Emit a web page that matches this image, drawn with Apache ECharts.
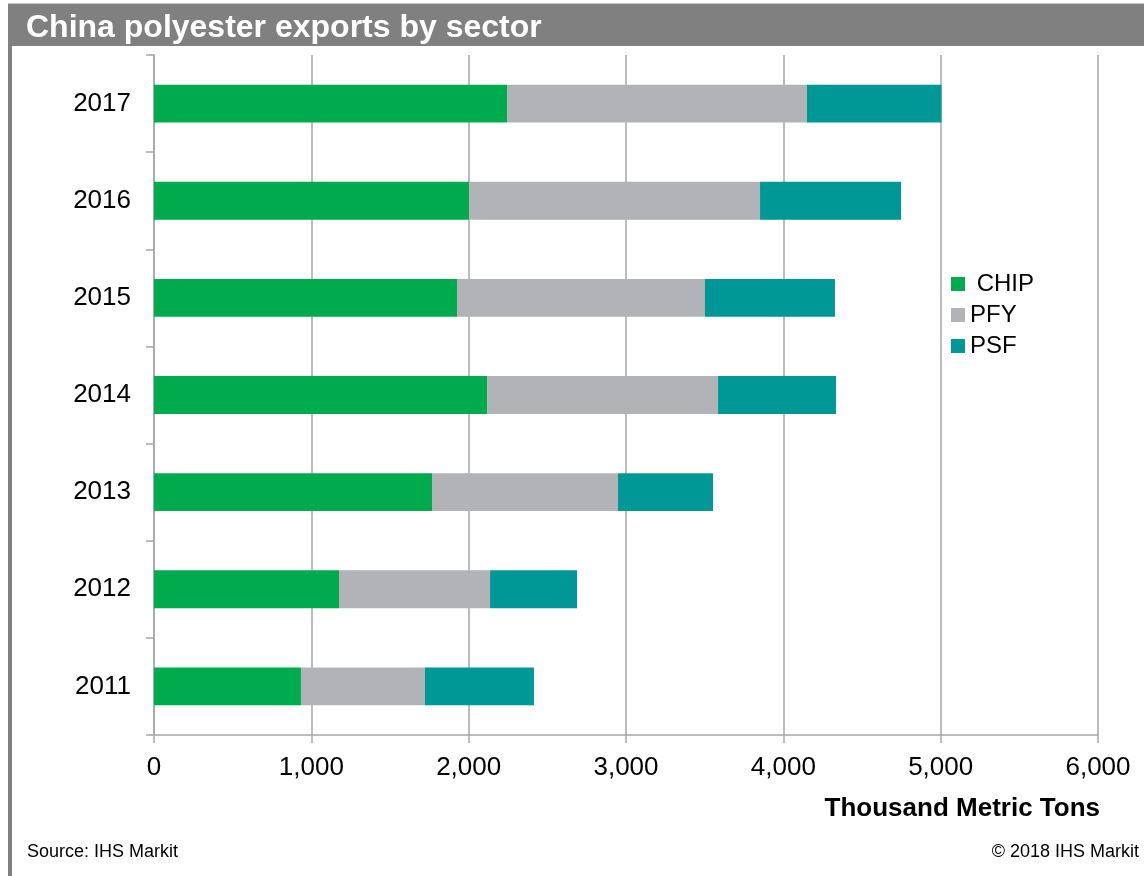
<!DOCTYPE html>
<html>
<head>
<meta charset="utf-8">
<script src="https://cdn.jsdelivr.net/npm/echarts@6/dist/echarts.min.js"></script>
<style>
html,body{margin:0;padding:0;background:#fff;}
#chart{width:1144px;height:876px;}
</style>
</head>
<body>
<div id="chart"></div>
<script>
const years = ['2011','2012','2013','2014','2015','2016','2017'];
const chip = [934, 1176, 1767, 2117, 1926, 2002, 2244];
const pfy  = [788, 960, 1182, 1468, 1576, 1850, 1906];
const psf  = [693, 553, 604, 750, 826, 896, 855];
const xTicks = [0, 1000, 2000, 3000, 4000, 5000, 6000];

const FONT = '"Liberation Sans", Arial, sans-serif';
const chart = echarts.init(document.getElementById('chart'), null, {renderer:'canvas'});
chart.setOption({
  animation: false,
  backgroundColor: '#ffffff',
  textStyle: {fontFamily: FONT},
  grid: {left: 154, right: 46, top: 55, bottom: 141, containLabel: false},
  legend: {
    orient: 'vertical', left: 946, top: 267,
    icon: 'rect', itemWidth: 14, itemHeight: 14, itemGap: 7,
    textStyle: {fontFamily: FONT, fontSize: 24, color: '#000'},
    formatter: n => n === 'CHIP' ? ' ' + n : n,
    data: ['CHIP','PFY','PSF']
  },
  xAxis: {
    type: 'value', min: xTicks[0], max: xTicks[xTicks.length-1], interval: 1000,
    axisLine: {show: true, lineStyle: {color: '#a6a6a6', width: 1.5}},
    axisTick: {show: true, length: 8, lineStyle: {color: '#a6a6a6', width: 1.5}},
    splitLine: {show: true, lineStyle: {color: '#a6a6a6', width: 1.5}},
    axisLabel: {fontFamily: FONT, fontSize: 26, color: '#000', margin: 20,
      formatter: v => v.toLocaleString('en-US')}
  },
  yAxis: {
    type: 'category', data: years,
    axisLine: {show: true, lineStyle: {color: '#a6a6a6', width: 1.5}},
    axisTick: {show: true, length: 8, lineStyle: {color: '#a6a6a6', width: 1.5}},
    axisLabel: {fontFamily: FONT, fontSize: 26, color: '#000', margin: 23}
  },
  series: [
    {name: 'CHIP', type: 'bar', stack: 't', data: chip, barWidth: '39%', itemStyle: {color: '#00ab4e'}},
    {name: 'PFY', type: 'bar', stack: 't', data: pfy, barWidth: '39%', itemStyle: {color: '#b2b3b6'}},
    {name: 'PSF', type: 'bar', stack: 't', data: psf, barWidth: '39%', itemStyle: {color: '#009797'}}
  ],
  graphic: [
    {type: 'rect', left: 8, top: 3, shape: {width: 1136, height: 1}, style: {fill: '#c8c8c8'}, z: 10},
    {type: 'rect', left: 8, top: 4, shape: {width: 1136, height: 42}, style: {fill: '#7f807f'}, z: 10},
    {type: 'rect', left: 8, top: 4, shape: {width: 4, height: 872}, style: {fill: '#7f807f'}, z: 10},
    {type: 'text', left: 26, top: 12, z: 11,
      style: {text: 'China polyester exports by sector', fill: '#ffffff', font: 'bold 32px ' + FONT}},
    {type: 'text', right: 44, top: 796, z: 11,
      style: {text: 'Thousand Metric Tons', fill: '#000', font: 'bold 26px ' + FONT}},
    {type: 'text', left: 27, top: 843, z: 11,
      style: {text: 'Source: IHS Markit', fill: '#000', font: '18px ' + FONT}},
    {type: 'text', right: 5, top: 843, z: 11,
      style: {text: '\u00a9 2018 IHS Markit', fill: '#000', font: '18px ' + FONT}}
  ]
});
</script>
</body>
</html>
